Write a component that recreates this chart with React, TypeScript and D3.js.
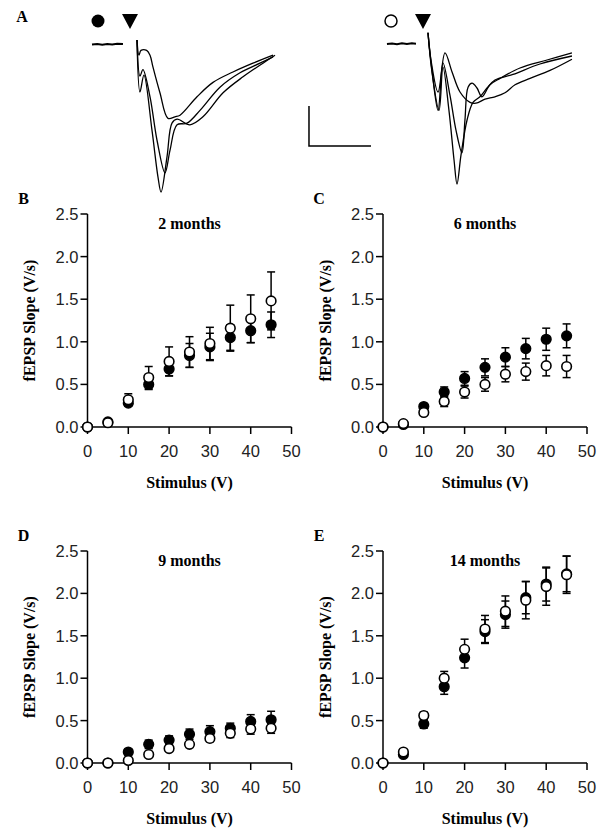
import React from "react";
import * as d3 from "d3";

// ---------- DATA ----------
const stimulus = [0, 5, 10, 15, 20, 25, 30, 35, 40, 45];
const xTicks = [0, 10, 20, 30, 40, 50];
const yTicks = [0, 0.5, 1.0, 1.5, 2.0, 2.5];

// 2 months
const filled2 = [0, 0.06, 0.28, 0.5, 0.68, 0.84, 0.94, 1.05, 1.13, 1.2];
const filled2Err = [0, 0.02, 0.03, 0.06, 0.08, 0.14, 0.16, 0.15, 0.14, 0.15];
const open2 = [0, 0.05, 0.32, 0.58, 0.77, 0.88, 0.98, 1.16, 1.27, 1.48];
const open2Err = [0, 0.02, 0.07, 0.13, 0.17, 0.18, 0.19, 0.27, 0.28, 0.34];
// 6 months
const filled6 = [0, 0.03, 0.24, 0.41, 0.57, 0.7, 0.82, 0.92, 1.03, 1.07];
const filled6Err = [0, 0.01, 0.03, 0.06, 0.08, 0.1, 0.11, 0.12, 0.13, 0.14];
const open6 = [0, 0.04, 0.17, 0.3, 0.41, 0.5, 0.62, 0.65, 0.72, 0.71];
const open6Err = [0, 0.01, 0.03, 0.06, 0.07, 0.08, 0.09, 0.1, 0.12, 0.13];
// 9 months
const filled9 = [0, 0.0, 0.13, 0.22, 0.27, 0.34, 0.37, 0.41, 0.49, 0.51];
const filled9Err = [0, 0, 0.03, 0.05, 0.05, 0.06, 0.07, 0.06, 0.08, 0.1];
const open9 = [0, 0.0, 0.03, 0.1, 0.17, 0.22, 0.29, 0.35, 0.4, 0.41];
const open9Err = [0, 0, 0.01, 0.02, 0.03, 0.03, 0.04, 0.05, 0.06, 0.06];
// 14 months
const filled14 = [0, 0.1, 0.46, 0.9, 1.24, 1.55, 1.75, 1.95, 2.11, 2.23];
const filled14Err = [0, 0.02, 0.05, 0.09, 0.12, 0.14, 0.16, 0.19, 0.2, 0.21];
const open14 = [0, 0.13, 0.56, 1.0, 1.34, 1.58, 1.79, 1.92, 2.08, 2.22];
const open14Err = [0, 0.02, 0.04, 0.08, 0.12, 0.16, 0.18, 0.22, 0.22, 0.22];

// Example fEPSP traces (time ms, amplitude mV)
const leftBaseline: [number, number][] = [[-3.63, -0.005], [-3.2, 0.0], [-2.8, -0.008], [-2.4, 0.0], [-2.0, -0.006], [-1.6, 0.004], [-1.13, 0.0]];
const leftTrace1: [number, number][] = [[0, 0.05], [0.16, -0.14], [0.32, -0.08], [0.78, -0.08], [1.05, -0.14], [1.29, -0.29], [1.85, -0.61], [2.5, -0.93], [3.06, -0.91], [3.47, -0.89], [4.84, -0.66], [6.13, -0.48], [7.74, -0.35], [9.35, -0.24], [10.97, -0.14]];
const leftTrace2: [number, number][] = [[0, 0.05], [0.24, -0.4], [0.48, -0.32], [1.05, -0.66], [1.61, -1.2], [2.26, -1.61], [2.66, -1.33], [3.23, -1.01], [4.03, -0.99], [5.08, -0.83], [6.69, -0.54], [8.31, -0.36], [9.92, -0.24], [10.97, -0.16]];
const leftTrace3: [number, number][] = [[0, 0.05], [0.24, -0.6], [0.56, -0.39], [1.21, -1.08], [1.69, -1.66], [1.94, -1.85], [2.42, -1.41], [2.82, -0.99], [3.23, -0.94], [4.27, -1.01], [5.32, -0.91], [6.94, -0.61], [8.55, -0.41], [10.16, -0.24], [11.13, -0.14]];
const rightBaseline: [number, number][] = [[-3.31, 0.0], [-2.9, 0.006], [-2.5, -0.004], [-2.1, 0.008], [-1.7, 0.0], [-1.3, 0.008], [-0.97, 0.004]];
const rightTrace1: [number, number][] = [[0, 0.14], [0.24, -0.2], [0.81, -0.6], [1.37, -0.11], [1.94, -0.35], [2.58, -0.6], [3.39, -0.73], [3.87, -0.74], [4.6, -0.69], [5.4, -0.66], [6.21, -0.61], [7.02, -0.51], [8.23, -0.43], [9.84, -0.33], [11.61, -0.19]];
const rightTrace2: [number, number][] = [[0, 0.14], [0.32, -0.33], [0.81, -0.83], [1.21, -0.24], [1.77, -0.64], [2.26, -1.08], [2.74, -1.36], [2.98, -0.95], [3.23, -0.54], [3.55, -0.49], [3.95, -0.55], [4.35, -0.66], [5.0, -0.51], [5.81, -0.43], [7.42, -0.3], [9.6, -0.2], [11.61, -0.11]];
const rightTrace3: [number, number][] = [[0, 0.14], [0.32, -0.35], [0.89, -0.83], [1.21, -0.29], [1.69, -0.83], [2.1, -1.45], [2.34, -1.75], [2.66, -1.39], [3.15, -0.95], [3.63, -0.73], [4.19, -0.66], [4.76, -0.55], [5.4, -0.45], [6.85, -0.38], [9.03, -0.25], [11.61, -0.15]];
const scaleBarMs = 5;
const scaleBarMv = 0.5;

const panelLetters = ["B", "C", "D", "E"];
const panelTitles = ["2 months", "6 months", "9 months", "14 months"];

// ---------- LAYOUT ----------
const SERIF = "'Liberation Serif', 'Times New Roman', serif";
const SANS = "'Liberation Sans', Arial, sans-serif";

const panels = [
  { letter: panelLetters[0], title: panelTitles[0], filled: filled2, filledErr: filled2Err, open: open2, openErr: open2Err, x0: 87.5, y0: 427, yTop: 214 },
  { letter: panelLetters[1], title: panelTitles[1], filled: filled6, filledErr: filled6Err, open: open6, openErr: open6Err, x0: 383, y0: 427, yTop: 214 },
  { letter: panelLetters[2], title: panelTitles[2], filled: filled9, filledErr: filled9Err, open: open9, openErr: open9Err, x0: 87.5, y0: 763, yTop: 551 },
  { letter: panelLetters[3], title: panelTitles[3], filled: filled14, filledErr: filled14Err, open: open14, openErr: open14Err, x0: 383, y0: 763, yTop: 551 },
];
const PLOT_W = 204;

function Panel({ p }: { p: (typeof panels)[number] }) {
  const x = d3.scaleLinear().domain([0, 50]).range([p.x0, p.x0 + PLOT_W]);
  const y = d3.scaleLinear().domain([0, 2.5]).range([p.y0, p.yTop]);
  const cap = 4;
  const series = [
    { vals: p.filled, errs: p.filledErr, fill: "#000" },
    { vals: p.open, errs: p.openErr, fill: "#fff" },
  ];
  return (
    <g>
      <text x={p.x0 - 64} y={p.yTop - 10} fontFamily={SERIF} fontWeight="bold" fontSize={16} textAnchor="middle">{p.letter}</text>
      <text x={x(25)} y={p.yTop + 15} fontFamily={SERIF} fontWeight="bold" fontSize={16} textAnchor="middle">{p.title}</text>
      {/* axes */}
      <line x1={x(0)} x2={x(50)} y1={y(0)} y2={y(0)} stroke="#000" strokeWidth={1.5} />
      <line x1={x(0)} x2={x(0)} y1={y(0)} y2={y(2.5)} stroke="#000" strokeWidth={1.5} />
      {xTicks.map((t) => (
        <g key={"xt" + t}>
          <line x1={x(t)} x2={x(t)} y1={y(0)} y2={y(0) + 7} stroke="#000" strokeWidth={1.5} />
          <text x={x(t)} y={y(0) + 30} fontFamily={SANS} fontSize={16.5} textAnchor="middle" fill="#222">{t}</text>
        </g>
      ))}
      {yTicks.map((t) => (
        <g key={"yt" + t}>
          <line x1={x(0) - 7} x2={x(0)} y1={y(t)} y2={y(t)} stroke="#000" strokeWidth={1.5} />
          <text x={x(0) - 9} y={y(t)} dy="0.36em" fontFamily={SANS} fontSize={16.5} textAnchor="end" fill="#222">{t.toFixed(1)}</text>
        </g>
      ))}
      <text x={x(25)} y={y(0) + 61} fontFamily={SERIF} fontWeight="bold" fontSize={16} textAnchor="middle">Stimulus (V)</text>
      <text transform={`translate(${x(0) - 58},${(y(0) + y(2.5)) / 2}) rotate(-90)`} dy="0.35em" fontFamily={SERIF} fontWeight="bold" fontSize={16} textAnchor="middle">fEPSP Slope (V/s)</text>
      {/* data */}
      {series.map((s, si) => (
        <g key={"s" + si}>
          {stimulus.map((v, i) => s.errs[i] > 0 ? (
            <g key={"e" + i} stroke="#000" strokeWidth={1.5}>
              <line x1={x(v)} x2={x(v)} y1={y(s.vals[i] - s.errs[i])} y2={y(s.vals[i] + s.errs[i])} />
              <line x1={x(v) - cap} x2={x(v) + cap} y1={y(s.vals[i] + s.errs[i])} y2={y(s.vals[i] + s.errs[i])} />
              <line x1={x(v) - cap} x2={x(v) + cap} y1={y(s.vals[i] - s.errs[i])} y2={y(s.vals[i] - s.errs[i])} />
            </g>
          ) : null)}
          {stimulus.map((v, i) => (
            <circle key={"c" + i} cx={x(v)} cy={y(s.vals[i])} r={4.8} fill={s.fill} stroke="#000" strokeWidth={1.6} />
          ))}
        </g>
      ))}
    </g>
  );
}

function Traces() {
  const msPx = 12.4;
  const mvPx = 80;
  const xl = d3.scaleLinear().domain([0, 1]).range([137, 137 + msPx]);
  const xr = d3.scaleLinear().domain([0, 1]).range([428, 428 + msPx]);
  const yA = d3.scaleLinear().domain([0, 1]).range([44, 44 - mvPx]);
  const lineL = d3.line<[number, number]>().x((d) => xl(d[0])).y((d) => yA(d[1])).curve(d3.curveCatmullRom.alpha(0.5));
  const lineR = d3.line<[number, number]>().x((d) => xr(d[0])).y((d) => yA(d[1])).curve(d3.curveCatmullRom.alpha(0.5));
  const baseL = d3.line<[number, number]>().x((d) => xl(d[0])).y((d) => yA(d[1]));
  const baseR = d3.line<[number, number]>().x((d) => xr(d[0])).y((d) => yA(d[1]));
  const tri = (cx: number) => `M${cx - 8},${14} L${cx + 8},${14} L${cx},${29} Z`;
  const sbX = xl(13.87);
  const sbY = yA(-1.275);
  return (
    <g>
      <text x={22} y={22} fontFamily={SERIF} fontWeight="bold" fontSize={16} textAnchor="middle">A</text>
      <circle cx={98} cy={21} r={6.5} fill="#000" />
      <path d={tri(130)} fill="#000" />
      <circle cx={391} cy={21} r={6} fill="#fff" stroke="#000" strokeWidth={1.5} />
      <path d={tri(423)} fill="#000" />
      <g fill="none" stroke="#000" strokeWidth={1.3}>
        <path d={baseL(leftBaseline) || ""} strokeWidth={2} />
        <path d={lineL(leftTrace1) || ""} />
        <path d={lineL(leftTrace2) || ""} />
        <path d={lineL(leftTrace3) || ""} />
        <path d={baseR(rightBaseline) || ""} strokeWidth={2} />
        <path d={lineR(rightTrace1) || ""} />
        <path d={lineR(rightTrace2) || ""} />
        <path d={lineR(rightTrace3) || ""} />
        <path d={`M${sbX},${sbY - scaleBarMv * mvPx} L${sbX},${sbY} L${sbX + scaleBarMs * msPx},${sbY}`} strokeWidth={1.5} />
      </g>
    </g>
  );
}

export default function App() {
  return (
    <svg width={600} height={831} style={{ position: "absolute", left: 0, top: 0, background: "#fff" }}>
      <rect width={600} height={831} fill="#fff" />
      <Traces />
      {panels.map((p) => (
        <Panel key={p.letter} p={p} />
      ))}
    </svg>
  );
}
